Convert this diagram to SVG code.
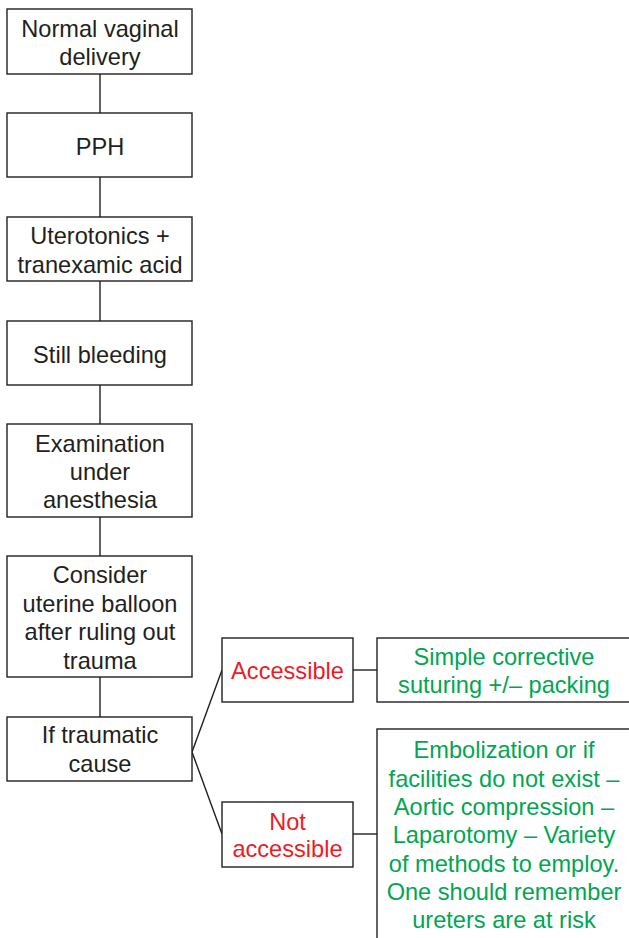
<svg xmlns="http://www.w3.org/2000/svg" width="629" height="938" viewBox="0 0 629 938">
<style>
.box{fill:#fff;stroke:#231f20;stroke-width:1.4}
.ln{stroke:#231f20;stroke-width:1.4;fill:none}
text{font-family:"Liberation Sans",Arial,sans-serif;font-size:23.6px;text-anchor:middle}
.k{fill:#231f20}
.r{fill:#ed1c24}
.g{fill:#00a651}
</style>
<rect width="629" height="938" fill="#fff"/>
<g id="connectors">
<line class="ln" x1="100" y1="74" x2="100" y2="113"/>
<line class="ln" x1="100" y1="177" x2="100" y2="217"/>
<line class="ln" x1="100" y1="281" x2="100" y2="321"/>
<line class="ln" x1="100" y1="385" x2="100" y2="424"/>
<line class="ln" x1="100" y1="517" x2="100" y2="556"/>
<line class="ln" x1="100" y1="677" x2="100" y2="717"/>
<polyline class="ln" points="222,670 192,752 222,834"/>
<line class="ln" x1="353" y1="670" x2="377" y2="670"/>
<line class="ln" x1="353" y1="834" x2="377" y2="834"/>
</g>
<g id="n1"><rect class="box" x="7" y="9" width="185" height="65"/><text class="k" x="100" y="37">Normal vaginal</text><text class="k" x="100" y="65">delivery</text></g>
<g id="n2"><rect class="box" x="7" y="113" width="185" height="64"/><text class="k" x="100" y="155">PPH</text></g>
<g id="n3"><rect class="box" x="7" y="217" width="185" height="64"/><text class="k" x="100" y="244">Uterotonics +</text><text class="k" x="100" y="273">tranexamic acid</text></g>
<g id="n4"><rect class="box" x="7" y="321" width="185" height="64"/><text class="k" x="100" y="363">Still bleeding</text></g>
<g id="n5"><rect class="box" x="7" y="424" width="185" height="93"/><text class="k" x="100" y="452">Examination</text><text class="k" x="100" y="480">under</text><text class="k" x="100" y="508">anesthesia</text></g>
<g id="n6"><rect class="box" x="7" y="556" width="185" height="121"/><text class="k" x="100" y="583">Consider</text><text class="k" x="100" y="612">uterine balloon</text><text class="k" x="100" y="640">after ruling out</text><text class="k" x="100" y="669">trauma</text></g>
<g id="n7"><rect class="box" x="7" y="717" width="185" height="64"/><text class="k" x="100" y="743">If traumatic</text><text class="k" x="100" y="772">cause</text></g>
<g id="n8"><rect class="box" x="222" y="638" width="131" height="64"/><text class="r" x="287.5" y="679">Accessible</text></g>
<g id="n9"><rect class="box" x="222" y="802" width="131" height="65"/><text class="r" x="287.5" y="830">Not</text><text class="r" x="287.5" y="857">accessible</text></g>
<g id="n10"><rect class="box" x="377" y="638" width="260" height="64"/><text class="g" x="504" y="665">Simple corrective</text><text class="g" x="504" y="693">suturing +/– packing</text></g>
<g id="n11"><rect class="box" x="377" y="729" width="260" height="220"/><text class="g" x="504" y="758">Embolization or if</text><text class="g" x="504" y="787">facilities do not exist –</text><text class="g" x="504" y="815">Aortic compression –</text><text class="g" x="504" y="843">Laparotomy – Variety</text><text class="g" x="504" y="872">of methods to employ.</text><text class="g" x="504" y="900">One should remember</text><text class="g" x="504" y="928">ureters are at risk</text></g>
</svg>
